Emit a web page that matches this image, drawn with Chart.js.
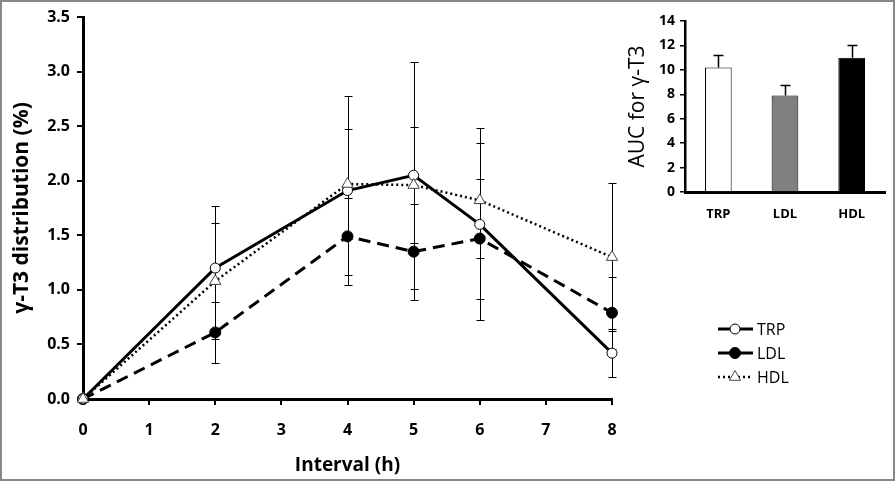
<!DOCTYPE html>
<html><head><meta charset="utf-8">
<script src="https://cdn.jsdelivr.net/npm/chart.js@4/dist/chart.umd.min.js"></script>
<style>
html,body{margin:0;padding:0;background:#fff;}
#wrap{position:relative;width:896px;height:482px;overflow:hidden;}
#main{position:absolute;left:0;top:0;}
#inset{position:absolute;left:625px;top:0;}
</style></head><body>
<div id="wrap">
<canvas id="main" width="896" height="482"></canvas>
<canvas id="inset" width="268" height="235"></canvas>
</div>
<script>
// ---- data ----
const intervals = [0, 2, 4, 5, 6, 8];
const seriesNames = ['TRP', 'LDL', 'HDL'];
const trpValues = [0, 1.20, 1.91, 2.05, 1.60, 0.42];
const trpErrors = [0, 0.57, 0.87, 1.04, 0.88, 0.22];
const ldlValues = [0, 0.61, 1.49, 1.35, 1.47, 0.79];
const ldlErrors = [0, 0.28, 0.35, 0.44, 0.55, 0.33];
const hdlValues = [0, 1.08, 1.97, 1.96, 1.82, 1.30];
const hdlErrors = [0, 0.53, 0.50, 0.53, 0.53, 0.68];
const yTickValues = [0, 0.5, 1.0, 1.5, 2.0, 2.5, 3.0, 3.5];

const aucCategories = ['TRP', 'LDL', 'HDL'];
const aucValues = [10.2, 7.9, 11.0];
const aucErrors = [1.0, 0.9, 1.0];

const FONT = "'Open Sans', 'DejaVu Sans', sans-serif";

const seriesValues = [trpValues, ldlValues, hdlValues];
const seriesErrors = [trpErrors, ldlErrors, hdlErrors];
const seriesStyle = [
  {dash: [], width: 3, point: 'circle', fill: '#fff', stroke: '#000', r: 5, order: 1},
  {dash: [12, 7], width: 3, point: 'circle', fill: '#000', stroke: '#000', r: 5.5, order: 2},
  {dash: [2, 3], width: 2.5, point: 'triangle', fill: '#fff', stroke: '#444', r: 6.5, order: 0}
];

const errPlugin = {
  id: 'errbars',
  beforeDatasetsDraw(chart) {
    const {ctx, scales: {x, y}} = chart;
    ctx.save();
    ctx.strokeStyle = '#000';
    ctx.lineWidth = 1;
    seriesValues.forEach((vals, s) => {
      const errs = seriesErrors[s];
      vals.forEach((v, i) => {
        const e = errs[i];
        if (!e) return;
        const px = Math.round(x.getPixelForValue(intervals[i])) + 0.5;
        const top = Math.round(y.getPixelForValue(v + e)) + 0.5;
        const bot = Math.round(y.getPixelForValue(v - e)) + 0.5;
        ctx.beginPath();
        ctx.moveTo(px, top); ctx.lineTo(px, bot);
        ctx.moveTo(px - 4, top); ctx.lineTo(px + 4, top);
        ctx.moveTo(px - 4, bot); ctx.lineTo(px + 4, bot);
        ctx.stroke();
      });
    });
    ctx.restore();
  }
};

const legendPlugin = {
  id: 'customLegend',
  afterDraw(chart) {
    const ctx = chart.ctx;
    ctx.save();
    const x0 = 718, x1 = 753, mx = 735, tx = 757;
    const ys = [329, 353, 377];
    seriesNames.forEach((name, i) => {
      const st = seriesStyle[i];
      const yy = ys[i];
      ctx.strokeStyle = '#000';
      ctx.lineWidth = st.width;
      ctx.setLineDash(i === 1 ? [] : st.dash);
      ctx.beginPath();
      ctx.moveTo(x0, yy); ctx.lineTo(x1, yy);
      ctx.stroke();
      ctx.setLineDash([]);
      ctx.lineWidth = 1;
      ctx.fillStyle = st.fill;
      ctx.strokeStyle = st.stroke;
      ctx.beginPath();
      if (st.point === 'circle') {
        ctx.arc(mx, yy, st.r, 0, Math.PI * 2);
      } else {
        const r = st.r;
        ctx.moveTo(mx, yy - r);
        ctx.lineTo(mx + r * 0.866, yy + r * 0.5);
        ctx.lineTo(mx - r * 0.866, yy + r * 0.5);
        ctx.closePath();
      }
      ctx.fill();
      ctx.stroke();
      ctx.fillStyle = '#000';
      ctx.font = "16px " + FONT;
      ctx.textBaseline = 'middle';
      ctx.textAlign = 'left';
      ctx.fillText(name, tx, yy + 1);
    });
    // outer frame
    ctx.strokeStyle = '#888';
    ctx.lineWidth = 2;
    ctx.strokeRect(1, 1, 893, 479);
    ctx.restore();
  }
};

const mainDatasets = seriesNames.map((name, s) => ({
  label: name,
  data: intervals.map((xv, i) => ({x: xv, y: seriesValues[s][i]})),
  order: seriesStyle[s].order,
  borderColor: '#000',
  borderWidth: seriesStyle[s].width,
  borderDash: seriesStyle[s].dash,
  pointStyle: seriesStyle[s].point,
  pointRadius: seriesStyle[s].r,
  pointBackgroundColor: seriesStyle[s].fill,
  pointBorderColor: seriesStyle[s].stroke,
  pointBorderWidth: 1,
  tension: 0,
  fill: false,
  clip: false
}));

new Chart(document.getElementById('main'), {
  type: 'line',
  data: {datasets: mainDatasets},
  options: {
    responsive: false,
    animation: false,
    layout: {padding: {left: 0, right: 284, top: 17, bottom: 0}},
    plugins: {legend: {display: false}, tooltip: {enabled: false}},
    scales: {
      x: {
        type: 'linear', min: 0, max: 8,
        ticks: {stepSize: 1, color: '#000', font: {family: FONT, size: 16, weight: 'bold'}, padding: 16},
        grid: {drawOnChartArea: false, color: '#000', tickLength: 6, lineWidth: 2},
        border: {color: '#000', width: 3},
        title: {display: true, text: 'Interval (h)', color: '#000', font: {family: FONT, size: 19, weight: 'bold'}, padding: {top: 0, bottom: 5}},
        afterFit(s) { s.height = 83; }
      },
      y: {
        min: 0, max: 3.5,
        afterBuildTicks(s) { s.ticks = yTickValues.map(v => ({value: v})); },
        ticks: {color: '#000', font: {family: FONT, size: 16, weight: 'bold'}, padding: 7, callback: v => Number(v).toFixed(1)},
        grid: {drawOnChartArea: false, color: '#000', tickLength: 6, lineWidth: 2},
        border: {color: '#000', width: 3},
        title: {display: true, text: 'γ-T3 distribution (%)', color: '#000', font: {family: FONT, size: 21, weight: 'bold'}, padding: {top: 9, bottom: 0}},
        afterFit(s) { s.width = 83; }
      }
    }
  },
  plugins: [errPlugin, legendPlugin]
});

const barErrPlugin = {
  id: 'barErr',
  afterDatasetsDraw(chart) {
    const {ctx, scales: {y}} = chart;
    const meta = chart.getDatasetMeta(0);
    ctx.save();
    ctx.strokeStyle = '#000';
    ctx.lineWidth = 1.5;
    meta.data.forEach((bar, i) => {
      const px = Math.round(bar.x) + 0.5;
      const top = Math.round(y.getPixelForValue(aucValues[i] + aucErrors[i])) + 0.5;
      const base = y.getPixelForValue(aucValues[i]);
      ctx.beginPath();
      ctx.moveTo(px, base); ctx.lineTo(px, top);
      ctx.moveTo(px - 5, top); ctx.lineTo(px + 5, top);
      ctx.stroke();
    });
    ctx.restore();
  }
};

new Chart(document.getElementById('inset'), {
  type: 'bar',
  data: {
    labels: aucCategories,
    datasets: [{
      data: aucValues,
      backgroundColor: ['#ffffff', '#808080', '#000000'],
      borderColor: '#000',
      borderWidth: 1,
      barPercentage: 0.4,
      categoryPercentage: 1
    }]
  },
  options: {
    responsive: false,
    animation: false,
    layout: {padding: {left: 0, right: 8, top: 21, bottom: 0}},
    plugins: {legend: {display: false}, tooltip: {enabled: false}},
    scales: {
      x: {
        ticks: {color: '#000', font: {family: FONT, size: 13, weight: 'bold'}, padding: 14},
        grid: {drawOnChartArea: false, drawTicks: false, color: '#000'},
        border: {color: '#000', width: 3},
        afterFit(s) { s.height = 43; }
      },
      y: {
        min: 0, max: 14,
        ticks: {stepSize: 2, color: '#000', font: {family: FONT, size: 14, weight: 'bold'}, padding: 5},
        grid: {drawOnChartArea: false, color: '#000', tickLength: 5, lineWidth: 1.5},
        border: {color: '#000', width: 2.5},
        title: {display: true, text: 'AUC for γ-T3', color: '#000', font: {family: FONT, size: 21}, padding: {top: 0, bottom: 0}},
        afterFit(s) { s.width = 60; }
      }
    }
  },
  plugins: [barErrPlugin]
});
</script>
</body></html>
